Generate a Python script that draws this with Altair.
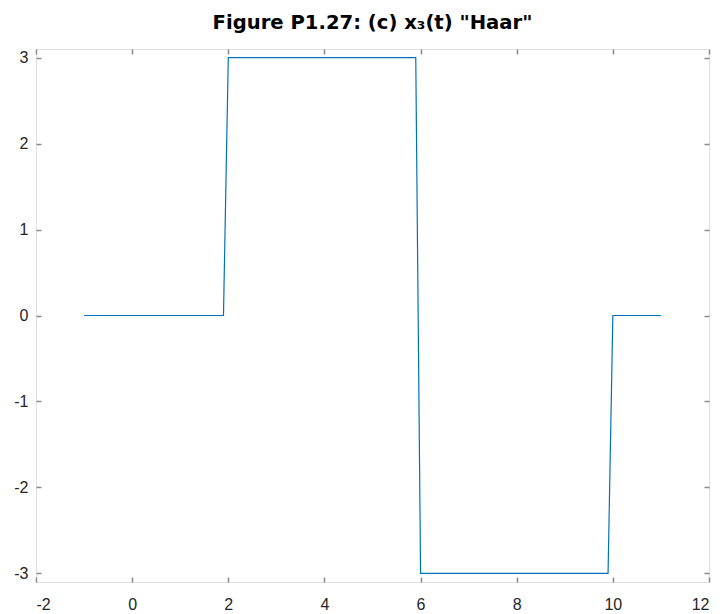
import altair as alt
import pandas as pd

# Signal samples
t_vals = [-1, 1.9, 2, 5.9, 6, 9.9, 10, 11]
x3_vals = [0, 0, 3, 3, -3, -3, 0, 0]

x_ticks = [-2, 0, 2, 4, 6, 8, 10, 12]
y_ticks = [-3, -2, -1, 0, 1, 2, 3]
x_domain = [-2, 12]
y_domain = [-3.1, 3.1]
title_text = 'Figure P1.27: (c) x\u2083(t) "Haar"'

df = pd.DataFrame({"t": t_vals, "x3": x3_vals})

xs = alt.Scale(domain=x_domain, nice=False, zero=False)
ys = alt.Scale(domain=y_domain, nice=False, zero=False)

FONT = "Liberation Sans"
LABEL_COLOR = "#262626"
AXIS_COLOR = "#8a8a8a"
LABEL_SIZE = 16
LABEL_EXPR = "'' + datum.value"

base = alt.Chart(df)

line = base.mark_line(color="#0072BD", strokeWidth=1.2).encode(
    x=alt.X("t:Q", scale=xs, axis=alt.Axis(
        orient="bottom", values=x_ticks, ticks=False, domain=False, grid=False,
        title=None, labelFont=FONT, labelFontSize=LABEL_SIZE, labelColor=LABEL_COLOR,
        labelPadding=14, labelExpr=LABEL_EXPR)),
    y=alt.Y("x3:Q", scale=ys, axis=alt.Axis(
        orient="left", values=y_ticks, ticks=False, domain=False, grid=False,
        title=None, labelFont=FONT, labelFontSize=LABEL_SIZE, labelColor=LABEL_COLOR,
        labelPadding=8, labelExpr=LABEL_EXPR)),
)

ticks_bl = base.mark_line(opacity=0).encode(
    x=alt.X("t:Q", scale=xs, axis=alt.Axis(
        orient="bottom", values=x_ticks, ticks=True, tickSize=5, tickColor=AXIS_COLOR,
        tickWidth=1.5, offset=-5, labels=False, domain=False, grid=False, title=None)),
    y=alt.Y("x3:Q", scale=ys, axis=alt.Axis(
        orient="left", values=y_ticks, ticks=True, tickSize=5, tickColor=AXIS_COLOR,
        tickWidth=1.5, offset=-5, labels=False, domain=False, grid=False, title=None)),
)

ticks_tr = base.mark_line(opacity=0).encode(
    x=alt.X("t:Q", scale=xs, axis=alt.Axis(
        orient="top", values=x_ticks, ticks=True, tickSize=5, tickColor=AXIS_COLOR,
        tickWidth=1.5, offset=-5, labels=False, domain=False, grid=False, title=None)),
    y=alt.Y("x3:Q", scale=ys, axis=alt.Axis(
        orient="right", values=y_ticks, ticks=True, tickSize=5, tickColor=AXIS_COLOR,
        tickWidth=1.5, offset=-5, labels=False, domain=False, grid=False, title=None)),
)

chart = alt.layer(line, ticks_bl, ticks_tr).resolve_axis(
    x="independent", y="independent"
).properties(
    width=673,
    height=533,
    title=alt.TitleParams(title_text, font="DejaVu Sans", fontSize=19.6, fontWeight="bold",
                          color="#000000", offset=15, anchor="middle"),
    autosize=alt.AutoSizeParams(type="none"),
    padding={"left": 28, "top": 41, "right": 5, "bottom": 34},
).configure_view(
    stroke=AXIS_COLOR, strokeWidth=1.5
).configure(background="white")

chart.save("out.html", embed_options={"renderer": "svg", "actions": False})
